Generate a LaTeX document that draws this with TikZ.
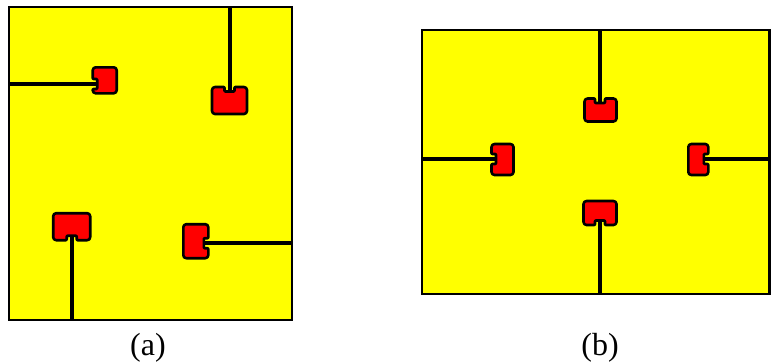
\documentclass[tikz,border=0pt]{standalone}
\usepackage{fontspec}
\setmainfont{Liberation Serif}
\definecolor{pyel}{RGB}{255,255,0}
\definecolor{pred}{RGB}{255,0,0}
\tikzset{
  panel/.style={draw=black, fill=pyel, line width=2.7pt},
  wire/.style={draw=black, line width=4pt},
  boxst/.style={draw=black, fill=pred, line width=2.6pt, line join=round},
  lbl/.style={font=\fontsize{32}{32}\selectfont, anchor=base, inner sep=0pt}
}
% #1 cx, #2 cy, #3 length along notched side, #4 depth, #5 rotation, #6 notch offset
\newcommand\notchbox[7]{%
  \draw[boxst, shift={(#1,#2)}, rotate=#5, rounded corners=3pt]
    ({-#3/2},{-#4/2}) [rounded corners=0.8pt] -- ({#6-5},{-#4/2}) -- ({#6-5},{-#4/2+4.5}) --
    ({#6+5},{-#4/2+4.5}) -- ({#6+5},{-#4/2}) [rounded corners=3pt] -- ({#3/2},{-#4/2}) --
    ({#3/2},{#4/2}) -- ({-#3/2},{#4/2}) -- cycle;
}
\begin{document}
\begin{tikzpicture}[x=1pt,y=-1pt]
\useasboundingbox (0,0) rectangle (771,364);
% panels
\path[panel] (9,7) rectangle (292,320);
\path[panel] (422,30) rectangle (769.5,294);
% wire end points (a)
\coordinate (a1s) at (9,84);    \coordinate (a1e) at (97,84);
\coordinate (a2s) at (229.5,7);  \coordinate (a2e) at (229.5,92);
\coordinate (a3s) at (71.5,320); \coordinate (a3e) at (71.5,235);
\coordinate (a4s) at (292,243.3);\coordinate (a4e) at (204,243.3);
% wire end points (b)
\coordinate (b1s) at (600,30);   \coordinate (b1e) at (600,103);
\coordinate (b2s) at (422,159);  \coordinate (b2e) at (496,159);
\coordinate (b3s) at (769.5,159);\coordinate (b3e) at (704,159);
\coordinate (b4s) at (600,294);  \coordinate (b4e) at (600,220);
\foreach \s/\e in {a1s/a1e,a2s/a2e,a3s/a3e,a4s/a4e,b1s/b1e,b2s/b2e,b3s/b3e,b4s/b4e}
  \draw[wire] (\s) -- (\e);
% boxes (a)
\notchbox{104.7}{80.3}{26}{24}{90}{-3.7}{}
\notchbox{229.5}{100.5}{35}{27}{0}{0}{}
\notchbox{71.7}{226.7}{37}{27}{180}{0}{}
\notchbox{195.8}{241.2}{34}{25}{-90}{2}{}
% boxes (b)
\notchbox{600.5}{110}{32}{23}{0}{-0.5}{}
\notchbox{502.5}{159.5}{31}{22}{90}{0.5}{}
\notchbox{698.3}{159.5}{31}{20}{-90}{-0.5}{}
\notchbox{600}{213}{33}{24}{180}{0}{}
% labels
\node[lbl] (la) at (148,355) {(a)};
\node[lbl] (lb) at (600,355) {(b)};
\end{tikzpicture}
\end{document}
